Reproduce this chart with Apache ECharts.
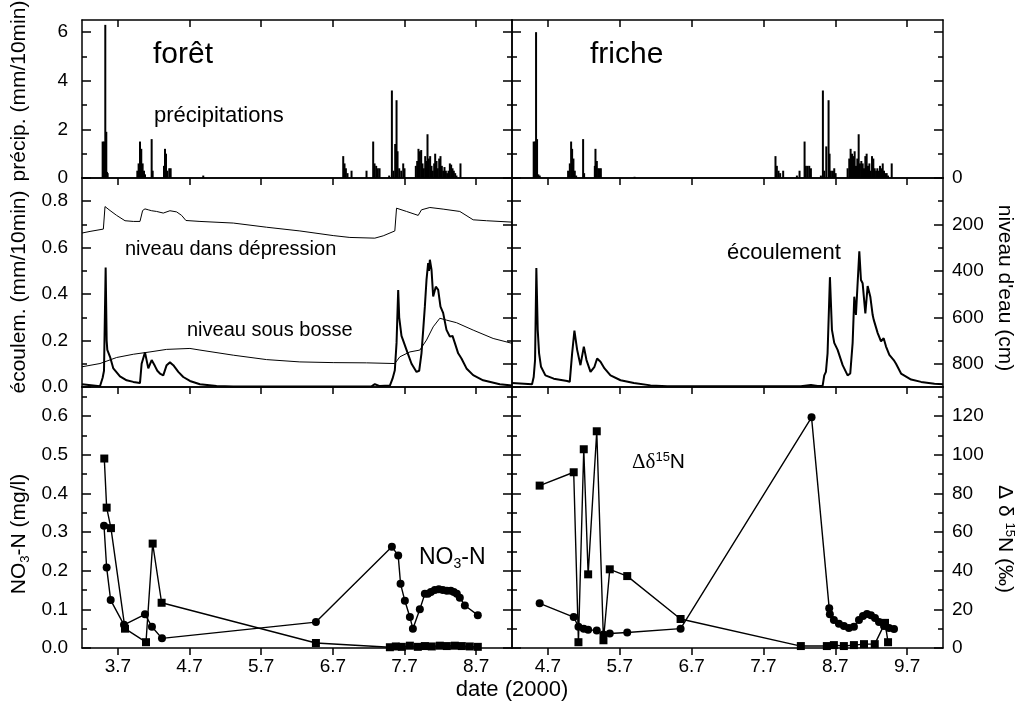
<!DOCTYPE html>
<html>
<head>
<meta charset="utf-8">
<script src="https://cdn.jsdelivr.net/npm/echarts@6/dist/echarts.min.js"></script>
<style>
  html, body { margin: 0; background: #fff; }
  #chart { width: 1022px; height: 713px; }
</style>
</head>
<body>
<div id="chart"></div>
<script>
/* ── Data (date as month.fraction, 2000) ── */
const X_TICKS_FORET  = [3.7, 4.7, 5.7, 6.7, 7.7, 8.7];
const X_TICKS_FRICHE = [4.7, 5.7, 6.7, 7.7, 8.7, 9.7];

const Y_PRECIP_MAJOR = [0, 2, 4, 6];
const Y_PRECIP_MINOR = [1, 3, 5];
const Y_ECOUL_MAJOR  = [0, 0.2, 0.4, 0.6, 0.8];
const Y_ECOUL_MINOR  = [0.1, 0.3, 0.5, 0.7];
const Y_NIVEAU_MAJOR = [0, 200, 400, 600, 800];
const Y_NIVEAU_MINOR = [100, 300, 500, 700];
const Y_NO3_MAJOR    = [0, 0.1, 0.2, 0.3, 0.4, 0.5, 0.6];
const Y_NO3_MINOR    = [0.05, 0.15, 0.25, 0.35, 0.45, 0.55, 0.65];
const Y_DELTA_MAJOR  = [0, 20, 40, 60, 80, 100, 120];
const Y_DELTA_MINOR  = [10, 30, 50, 70, 90, 110, 130];

// précipitations (mm/10min)
const PRECIP_FORET = [
  [3.488, 1.5], [3.507, 1.5], [3.525, 6.3], [3.539, 1.9], [3.548, 0.25], [3.558, 0.2],
  [3.972, 0.3], [3.99, 0.6], [4.009, 1.5], [4.027, 1.2], [4.046, 0.6], [4.065, 0.3], [4.079, 0.15],
  [4.172, 1.6], [4.186, 0.3],
  [4.344, 0.5], [4.358, 1.2], [4.372, 1.0], [4.39, 0.3], [4.418, 0.4], [4.437, 0.4],
  [4.892, 0.1],
  [6.845, 0.9], [6.863, 0.6], [6.882, 0.4], [6.905, 0.2], [6.961, 0.3],
  [7.17, 0.3],
  [7.263, 1.5], [7.282, 0.6], [7.305, 0.5], [7.328, 0.4], [7.352, 0.4],
  [7.486, 0.1], [7.524, 3.6], [7.547, 0.3], [7.57, 1.4], [7.589, 3.2], [7.603, 1.1], [7.626, 0.4],
  [7.654, 0.3], [7.682, 0.6], [7.70, 0.4],
  [7.858, 0.5], [7.877, 0.7], [7.895, 1.2], [7.914, 1.1], [7.933, 1.15], [7.951, 0.6], [7.97, 0.4],
  [7.989, 0.9], [8.007, 0.7], [8.021, 1.8], [8.04, 0.8], [8.058, 0.9], [8.077, 0.5], [8.095, 0.3],
  [8.114, 0.6], [8.128, 1.0], [8.147, 0.7], [8.165, 0.4], [8.184, 0.8], [8.202, 0.9], [8.221, 0.5],
  [8.24, 0.3], [8.258, 0.45], [8.277, 0.3], [8.295, 0.2], [8.314, 0.3], [8.333, 0.6], [8.351, 0.55],
  [8.37, 0.4], [8.388, 0.3], [8.407, 0.2], [8.425, 0.1], [8.481, 0.6]
];
const PRECIP_FRICHE = [
  [4.502, 1.5], [4.52, 1.5], [4.535, 6.0], [4.549, 1.6], [4.567, 0.15], [4.586, 0.1],
  [4.981, 0.3], [5.005, 0.6], [5.023, 1.5], [5.037, 1.2], [5.055, 0.8], [5.074, 0.3], [5.093, 0.1],
  [5.19, 1.6], [5.204, 0.2],
  [5.353, 0.5], [5.362, 1.2], [5.381, 0.7], [5.399, 0.4], [5.418, 0.4], [5.437, 0.4],
  [5.906, 0.05],
  [7.868, 0.9], [7.887, 0.5], [7.91, 0.3], [7.933, 0.2], [7.975, 0.3],
  [8.166, 0.1], [8.203, 0.3],
  [8.273, 1.5], [8.291, 0.5], [8.314, 0.5], [8.338, 0.5], [8.361, 0.4],
  [8.5, 0.1], [8.528, 3.6], [8.547, 0.3], [8.575, 1.3], [8.607, 3.2], [8.621, 1.0], [8.64, 0.3],
  [8.668, 0.3], [8.686, 0.4], [8.705, 0.2],
  [8.872, 0.4], [8.895, 0.8], [8.914, 1.2], [8.933, 1.0], [8.951, 0.9], [8.97, 1.1], [8.989, 0.5],
  [9.007, 0.8], [9.026, 1.8], [9.044, 0.6], [9.063, 0.7], [9.082, 0.6], [9.1, 0.4], [9.119, 0.9],
  [9.137, 1.0], [9.156, 0.5], [9.175, 0.6], [9.193, 0.3], [9.212, 0.9], [9.23, 0.8], [9.249, 0.4],
  [9.268, 0.3], [9.286, 0.4], [9.305, 0.3], [9.323, 0.5], [9.342, 0.4], [9.361, 0.6], [9.379, 0.3],
  [9.398, 0.2], [9.416, 0.2], [9.435, 0.1], [9.486, 0.6]
];

// écoulement (mm/10min)
const ECOUL_FORET = [
  [3.2, 0.012], [3.451, 0.003], [3.474, 0.007], [3.488, 0.04], [3.507, 0.07], [3.53, 0.515],
  [3.544, 0.2], [3.553, 0.16], [3.591, 0.13], [3.637, 0.08], [3.73, 0.046], [3.823, 0.029],
  [3.916, 0.022], [4.009, 0.017], [4.032, 0.1], [4.079, 0.149], [4.125, 0.08], [4.172, 0.116],
  [4.218, 0.09], [4.251, 0.07], [4.288, 0.058], [4.334, 0.05], [4.381, 0.094], [4.427, 0.106],
  [4.474, 0.094], [4.544, 0.065], [4.613, 0.043], [4.706, 0.026], [4.846, 0.012], [5.078, 0.004],
  [5.311, 0.002], [7.17, 0.002], [7.24, 0.003], [7.286, 0.012], [7.356, 0.004], [7.496, 0.006],
  [7.533, 0.036], [7.565, 0.072], [7.589, 0.19], [7.612, 0.418], [7.626, 0.3], [7.658, 0.22],
  [7.682, 0.2], [7.728, 0.16], [7.798, 0.1], [7.868, 0.065], [7.905, 0.07], [7.937, 0.145],
  [7.961, 0.246], [7.984, 0.346], [8.007, 0.461], [8.03, 0.534], [8.042, 0.5], [8.054, 0.548],
  [8.077, 0.505], [8.1, 0.39], [8.137, 0.432], [8.17, 0.418], [8.202, 0.346], [8.239, 0.319],
  [8.286, 0.246], [8.333, 0.217], [8.37, 0.22], [8.402, 0.19], [8.449, 0.145], [8.495, 0.123],
  [8.565, 0.08], [8.658, 0.051], [8.797, 0.029], [9.03, 0.012], [9.2, 0.006]
];
const ECOUL_FRICHE = [
  [4.2, 0.017], [4.479, 0.012], [4.502, 0.043], [4.521, 0.116], [4.539, 0.512], [4.558, 0.246],
  [4.577, 0.145], [4.604, 0.087], [4.665, 0.05], [4.781, 0.036], [4.967, 0.026], [5.004, 0.022],
  [5.037, 0.145], [5.069, 0.243], [5.107, 0.16], [5.153, 0.094], [5.2, 0.174], [5.237, 0.116],
  [5.293, 0.065], [5.348, 0.087], [5.385, 0.123], [5.432, 0.109], [5.488, 0.08], [5.571, 0.05],
  [5.711, 0.029], [5.897, 0.017], [6.129, 0.007], [6.362, 0.003], [8.221, 0.003], [8.361, 0.009],
  [8.454, 0.004], [8.524, 0.005], [8.547, 0.05], [8.57, 0.065], [8.593, 0.145], [8.626, 0.473],
  [8.654, 0.246], [8.686, 0.19], [8.733, 0.16], [8.803, 0.094], [8.872, 0.05], [8.909, 0.058],
  [8.942, 0.19], [8.965, 0.389], [8.988, 0.31], [9.035, 0.584], [9.058, 0.461], [9.081, 0.447],
  [9.119, 0.317], [9.151, 0.435], [9.188, 0.389], [9.221, 0.31], [9.235, 0.29], [9.291, 0.232],
  [9.337, 0.196], [9.374, 0.21], [9.407, 0.174], [9.453, 0.138], [9.514, 0.116], [9.546, 0.1],
  [9.616, 0.058], [9.756, 0.032], [9.895, 0.022], [10.081, 0.014], [10.2, 0.012]
];

// niveau d'eau (cm)
const NIVEAU_DEPRESSION = [
  [3.2, 237], [3.312, 230], [3.498, 220], [3.521, 123], [3.535, 125], [3.591, 140], [3.683, 161],
  [3.8, 184], [3.916, 187], [4.009, 187], [4.046, 140], [4.079, 133], [4.125, 137], [4.172, 141],
  [4.241, 144], [4.334, 151], [4.427, 141], [4.52, 146], [4.59, 161], [4.65, 183], [4.846, 187],
  [5.311, 194], [5.776, 212], [6.24, 228], [6.705, 248], [6.938, 256], [7.286, 259], [7.403, 249],
  [7.565, 228], [7.589, 130], [7.612, 127], [7.728, 144], [7.891, 161], [7.937, 137], [8.054, 127],
  [8.239, 134], [8.472, 144], [8.658, 180], [8.844, 184], [9.2, 190]
];
const NIVEAU_BOSSE = [
  [3.2, 813], [3.451, 799], [3.683, 773], [3.916, 759], [4.148, 749], [4.381, 738], [4.706, 734],
  [4.846, 741], [5.311, 763], [5.776, 782], [6.24, 792], [6.705, 795], [7.17, 796], [7.565, 799],
  [7.635, 770], [7.775, 749], [7.914, 741], [8.007, 698], [8.1, 641], [8.193, 604], [8.286, 612],
  [8.425, 623], [8.658, 655], [8.937, 691], [9.2, 712]
];

// NO3-N (mg/l), forêt
const NO3_CIRCLES = [
  [3.507, 0.316], [3.544, 0.208], [3.6, 0.124], [3.786, 0.06], [4.079, 0.087], [4.176, 0.055],
  [4.316, 0.025], [6.464, 0.067], [7.524, 0.262], [7.612, 0.239], [7.645, 0.166], [7.705, 0.122],
  [7.775, 0.08], [7.817, 0.05], [7.914, 0.1], [7.984, 0.14], [8.026, 0.14], [8.068, 0.145],
  [8.123, 0.15], [8.179, 0.152], [8.235, 0.15], [8.291, 0.148], [8.346, 0.148], [8.388, 0.145],
  [8.43, 0.14], [8.472, 0.13], [8.542, 0.11], [8.723, 0.085]
];
const NO3_SQUARES = [
  [3.511, 0.49], [3.544, 0.363], [3.604, 0.31], [3.8, 0.05], [4.093, 0.015], [4.186, 0.27],
  [4.311, 0.117], [6.464, 0.013], [7.496, 0.002], [7.579, 0.004], [7.663, 0.003], [7.775, 0.006],
  [7.886, 0.003], [7.984, 0.005], [8.081, 0.004], [8.193, 0.006], [8.291, 0.005], [8.402, 0.006],
  [8.5, 0.005], [8.611, 0.004], [8.723, 0.003]
];

// Δδ15N (‰), friche
const DELTA_CIRCLES = [
  [4.585, 23.1], [5.059, 16], [5.125, 11], [5.199, 10], [5.26, 9.5], [5.38, 9], [5.473, 7],
  [5.561, 7.5], [5.804, 8], [6.547, 10], [8.37, 119.3], [8.616, 20.5], [8.625, 17.5], [8.681, 14.5],
  [8.751, 12.5], [8.821, 11.4], [8.89, 10.3], [8.96, 11], [9.03, 14.5], [9.086, 16.5], [9.142, 17.6],
  [9.197, 17], [9.253, 15.5], [9.309, 13.5], [9.379, 11.4], [9.449, 10.3], [9.518, 9.8]
];
const DELTA_SQUARES = [
  [4.585, 84], [5.059, 90.9], [5.125, 3], [5.199, 102.8], [5.26, 38.1], [5.38, 112.1], [5.473, 4],
  [5.561, 40.7], [5.804, 37.2], [6.547, 15], [8.221, 1], [8.583, 1], [8.681, 1.5], [8.82, 1],
  [8.96, 1.5], [9.1, 2], [9.25, 2], [9.393, 13], [9.435, 3]
];

/* ── Layout / style ── */
const FONT = '"Liberation Sans", Arial, sans-serif';
const SERIF = '"Liberation Serif", "Times New Roman", serif';
const BLACK = '#000';
const AXIS_LINE = { color: BLACK, width: 1.5 };

const COLS = [
  { left: 82,  width: 430, min: 3.2, max: 9.2,  ticks: X_TICKS_FORET },
  { left: 512, width: 431, min: 4.2, max: 10.2, ticks: X_TICKS_FRICHE },
];
const ROWS = [
  { top: 20,  height: 158,
    left:  { min: 0, max: 6.5, major: Y_PRECIP_MAJOR, minor: Y_PRECIP_MINOR, fmt: v => String(v) },
    right: { min: 0, max: 6.5, major: Y_PRECIP_MAJOR, minor: Y_PRECIP_MINOR, fmt: v => String(v), noLabel: true } },
  { top: 178, height: 209,
    left:  { min: 0, max: 0.9, major: Y_ECOUL_MAJOR, minor: Y_ECOUL_MINOR, fmt: v => v.toFixed(1) },
    right: { min: 0, max: 900, inverse: true, major: Y_NIVEAU_MAJOR, minor: Y_NIVEAU_MINOR, fmt: v => String(v) } },
  { top: 387, height: 261,
    left:  { min: 0, max: 0.675, major: Y_NO3_MAJOR, minor: Y_NO3_MINOR, fmt: v => v.toFixed(1) },
    right: { min: 0, max: 135, major: Y_DELTA_MAJOR, minor: Y_DELTA_MINOR, fmt: v => String(v) } },
];

const grids = [], xAxes = [], yAxes = [];

function yAxis(gridIndex, position, spec, showLabel, major) {
  return {
    type: 'value', gridIndex, position, min: spec.min, max: spec.max, inverse: !!spec.inverse,
    splitLine: { show: false },
    axisLine: { show: major, onZero: false, lineStyle: AXIS_LINE },
    axisTick: {
      show: true, inside: true, length: major ? 9 : 5,
      customValues: major ? spec.major : spec.minor, lineStyle: AXIS_LINE,
    },
    axisLabel: {
      show: showLabel && major && !spec.noLabel, customValues: spec.major, formatter: spec.fmt,
      color: BLACK, fontSize: 19, fontFamily: FONT, margin: position === 'left' ? 14 : 9,
    },
  };
}

function xAxis(gridIndex, position, col, bottomRow) {
  const bottom = position === 'bottom';
  return {
    type: 'value', gridIndex, position, min: col.min, max: col.max,
    splitLine: { show: false },
    axisLine: { show: true, onZero: false, lineStyle: AXIS_LINE },
    axisTick: {
      show: !bottom || bottomRow, inside: !bottom, length: 7,
      customValues: col.ticks, lineStyle: AXIS_LINE,
    },
    axisLabel: {
      show: bottom && bottomRow, customValues: col.ticks, formatter: v => v.toFixed(1),
      color: BLACK, fontSize: 19, fontFamily: FONT, margin: 9,
    },
  };
}

ROWS.forEach((row, r) => {
  COLS.forEach((col, c) => {
    const g = grids.length;
    grids.push({ left: col.left, top: row.top, width: col.width, height: row.height });
    xAxes.push(xAxis(g, 'bottom', col, r === 2));
    xAxes.push(xAxis(g, 'top', col, r === 2));
    yAxes.push(yAxis(g, 'left', row.left, c === 0, true));
    yAxes.push(yAxis(g, 'left', row.left, false, false));
    yAxes.push(yAxis(g, 'right', row.right, c === 1, true));
    yAxes.push(yAxis(g, 'right', row.right, false, false));
  });
});

// axis index helpers: grid g → x bottom 2g, y left 4g, y right 4g+2
const X = g => 2 * g, YL = g => 4 * g, YR = g => 4 * g + 2;

function bars(g, data) {
  return { type: 'bar', xAxisIndex: X(g), yAxisIndex: YL(g), data, barWidth: 2,
           itemStyle: { color: BLACK }, silent: true };
}
function line(g, yIdx, data, width) {
  return { type: 'line', xAxisIndex: X(g), yAxisIndex: yIdx, data, showSymbol: false, symbol: 'none',
           lineStyle: { color: BLACK, width }, silent: true };
}
function marked(g, yIdx, data, symbol, size) {
  return { type: 'line', xAxisIndex: X(g), yAxisIndex: yIdx, data, symbol, symbolSize: size,
           itemStyle: { color: BLACK }, lineStyle: { color: BLACK, width: 1.4 }, silent: true };
}

const series = [
  bars(0, PRECIP_FORET),
  bars(1, PRECIP_FRICHE),
  line(2, YR(2), NIVEAU_DEPRESSION, 1),
  line(2, YR(2), NIVEAU_BOSSE, 1),
  line(2, YL(2), ECOUL_FORET, 2),
  line(3, YL(3), ECOUL_FRICHE, 2),
  marked(4, YL(4), NO3_SQUARES, 'rect', 8),
  marked(4, YL(4), NO3_CIRCLES, 'circle', 8),
  marked(5, YR(5), DELTA_SQUARES, 'rect', 8),
  marked(5, YR(5), DELTA_CIRCLES, 'circle', 8),
];

/* ── Annotations ── */
function label(x, y, text, size, extra) {
  return Object.assign({
    type: 'text', x, y, silent: true,
    style: { text, fill: BLACK, fontSize: size, fontFamily: FONT, align: 'left', verticalAlign: 'middle' },
  }, extra || {});
}
function rich(x, y, text, richStyles, extra) {
  return Object.assign({
    type: 'text', x, y, silent: true,
    style: { text, rich: richStyles, fill: BLACK, fontFamily: FONT, align: 'left', verticalAlign: 'middle' },
  }, extra || {});
}
const vtitle = (x, y, text, rot) => label(x, y, text, 21, {
  rotation: rot,
  style: { text, fill: BLACK, fontSize: 21, fontFamily: FONT, align: 'center', verticalAlign: 'middle' },
});

const R21 = { n: { fontSize: 21, fontFamily: FONT, fill: BLACK },
              g: { fontSize: 21, fontFamily: SERIF, fill: BLACK },
              s: { fontSize: 13, fontFamily: FONT, fill: BLACK, padding: [12, 0, 0, 0] },
              u: { fontSize: 13, fontFamily: FONT, fill: BLACK, padding: [0, 0, 10, 0] } };
const R23 = { n: { fontSize: 23, fontFamily: FONT, fill: BLACK },
              s: { fontSize: 14, fontFamily: FONT, fill: BLACK, padding: [13, 0, 0, 0] } };

const graphics = [
  label(153, 55, 'forêt', 30),
  label(590, 55, 'friche', 30),
  label(154, 116, 'précipitations', 22),
  label(125, 249, 'niveau dans dépression', 20),
  label(187, 330, 'niveau sous bosse', 20),
  label(727, 253, 'écoulement', 22),
  rich(419, 558, '{n|NO}{s|3}{n|-N}', R23),
  rich(632, 462, '{g|Δδ}{u|15}{n|N}', R21),
  vtitle(19, 91, 'précip. (mm/10min)', Math.PI / 2),
  vtitle(19, 292, 'écoulem. (mm/10min)', Math.PI / 2),
  rich(19, 534, '', R21, {
    rotation: Math.PI / 2,
    style: { text: '{n|NO}{s|3}{n|-N (mg/l)}', rich: R21, fill: BLACK, align: 'center', verticalAlign: 'middle' },
  }),
  vtitle(1005, 288, "niveau d'eau (cm)", -Math.PI / 2),
  rich(1005, 539, '', R21, {
    rotation: -Math.PI / 2,
    style: { text: '{n|Δ δ }{u|15}{n|N (‰)}', rich: R21, fill: BLACK, align: 'center', verticalAlign: 'middle' },
  }),
  label(512, 690, 'date (2000)', 22, {
    style: { text: 'date (2000)', fill: BLACK, fontSize: 22, fontFamily: FONT, align: 'center', verticalAlign: 'middle' },
  }),
];

const chart = echarts.init(document.getElementById('chart'), null, { renderer: 'canvas' });
chart.setOption({
  animation: false,
  backgroundColor: '#fff',
  grid: grids,
  xAxis: xAxes,
  yAxis: yAxes,
  series,
  graphic: graphics,
});
</script>
</body>
</html>
